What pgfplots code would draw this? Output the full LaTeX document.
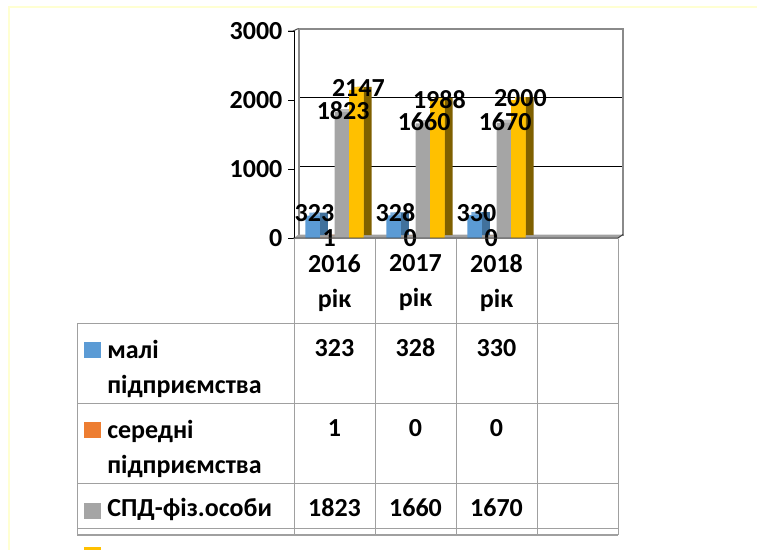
\documentclass[border=0pt]{standalone}
\usepackage{pgfplots}
\usepackage{pgfplotstable}
\pgfplotsset{compat=1.18}
\usepackage{fontspec}
\setmainfont{Carlito}
\definecolor{cBlue}{HTML}{5B9BD5}
\definecolor{cOrange}{HTML}{ED7D31}
\definecolor{cGrey}{HTML}{A5A5A5}
\definecolor{cYellow}{HTML}{FFC000}
\definecolor{sBlue}{HTML}{41719C}
\definecolor{sOrange}{HTML}{AE5A21}
\definecolor{sGrey}{HTML}{7C7C7C}
\definecolor{sYellow}{HTML}{7F6000}
\definecolor{tBlue}{HTML}{7DAFDD}
\definecolor{tOrange}{HTML}{F19759}
\definecolor{tGrey}{HTML}{BDBDBD}
\definecolor{tYellow}{HTML}{FFCD33}
\definecolor{wall}{HTML}{8A8A8A}
\definecolor{tbl}{HTML}{A0A0A0}
\definecolor{pageb}{HTML}{FFFFD2}
\newcommand{\bigf}{\fontsize{19.5}{26.25}\selectfont\bfseries}

\pgfplotstableread{
x small medium spd other
0 323 1 1823 2147
1 328 0 1660 1988
2 330 0 1670 2000
}\data

\pgfplotsset{
  /pgf/number format/1000 sep={},
  /pgf/number format/assume math mode=true,
  back/.style={ybar, bar width=10.95pt, bar shift=#1, xshift=3pt, yshift=2.25pt, draw=none},
  topf/.style={ybar, bar width=7.95pt, bar shift=#1, yshift=2.25pt, draw=none},
  front/.style={ybar, bar width=10.95pt, bar shift=#1, draw=none},
  lab/.style 2 args={only marks, mark=*, mark size=0pt, mark options={draw=none, fill=none},
    nodes near coords,
    every node near coord/.append style={font=\bigf, anchor=center, inner sep=0pt, xshift=#1, yshift=#2, text=black}},
}

\begin{document}
\begin{tikzpicture}
\begin{scope}[x=0.75pt,y=-0.75pt]
\useasboundingbox (0,0) rectangle (757,550);
% page border
\draw[pageb, line width=1.5pt] (8,7) -- (757,7);
\draw[pageb, line width=1.5pt] (9,7) -- (9,550);
% back wall grid
\draw[black, line width=0.75pt] (298.5,97.7) -- (623,97.7);
\draw[black, line width=0.75pt] (298.5,166.3) -- (623,166.3);
% walls
\draw[wall, line width=1.5pt] (298.5,236) -- (298.5,29) -- (623,29) -- (623,236);
\fill[wall!80] (294,238) -- (298.5,234.5) -- (623,234.5) -- (618,238) -- cycle;
\draw[black!70, line width=0.75pt] (288,31) -- (293,31) -- (298.5,28.5);
\end{scope}

\begin{axis}[
  at={(220.5pt,-178.5pt)}, anchor=south west,
  scale only axis, width=243pt, height=155.25pt,
  xmin=-0.5, xmax=3.5, ymin=0, ymax=3000,
  clip=false,
  axis lines*=left,
  x axis line style={draw=none},
  y axis line style={black, line width=0.75pt},
  xtick={0,1,2}, xticklabels={{2016\\рік},{2017\\рік},{2018\\рік}},
  xtick style={draw=none},
  xticklabel style={align=center, font=\bigf, inner sep=0pt, anchor=north, yshift=-7.5pt},
  ytick={0,1000,2000,3000},
  ytick style={black, line width=0.75pt},
  tick align=outside, major tick length=4.5pt,
  yticklabel style={font=\bigf, inner sep=0pt, anchor=east, xshift=-4pt},
]
% blue
\addplot[back=-13.425pt, fill=sBlue] table[x=x,y=small]{\data};
\addplot[topf=-14.925pt, fill=tBlue] table[x=x,y=small]{\data};
\addplot[front=-16.425pt, fill=cBlue] table[x=x,y=small]{\data};
% orange
\addplot[back=-2.475pt, fill=sOrange] table[x=x,y=medium]{\data};
\addplot[topf=-3.975pt, fill=tOrange] table[x=x,y=medium]{\data};
\addplot[front=-5.475pt, fill=cOrange] table[x=x,y=medium]{\data};
% grey
\addplot[back=8.475pt, fill=sGrey] table[x=x,y=spd]{\data};
\addplot[topf=6.975pt, fill=tGrey] table[x=x,y=spd]{\data};
\addplot[front=5.475pt, fill=cGrey] table[x=x,y=spd]{\data};
% yellow
\addplot[back=19.425pt, fill=sYellow] table[x=x,y=other]{\data};
\addplot[topf=17.925pt, fill=tYellow] table[x=x,y=other]{\data};
\addplot[front=16.425pt, fill=cYellow] table[x=x,y=other]{\data};
% labels
\addplot[lab={-15pt}{2pt}] table[x=x,y=small]{\data};
\addplot[lab={-4pt}{0pt}] table[x=x,y=medium]{\data};
\addplot[lab={6.5pt}{1.1pt}] table[x=x,y=spd]{\data};
\addplot[lab={17.9pt}{1.1pt}] table[x=x,y=other]{\data};
\end{axis}

\begin{scope}[x=0.75pt,y=-0.75pt]
% front floor edge
\draw[black!75, line width=0.75pt] (293,238) -- (618,238) -- (623,234.5);
% table lines
\begin{scope}[tbl, line width=0.75pt]
\foreach \yy in {323.3,403.3,483.3,528.3} \draw (77,\yy) -- (618,\yy);
\draw[line width=1.1pt] (77,535) -- (618,535);
\draw (77,323.3) -- (77,535);
\foreach \xx in {294,375,456,537,618} \draw (\xx,238.5) -- (\xx,535);
\end{scope}
% legend keys
\fill[cBlue] (84,342) rectangle (101,358);
\fill[cOrange] (84,422) rectangle (101,438);
\fill[cGrey] (84,502.5) rectangle (101,518.5);
\fill[cYellow] (84,547) rectangle (101,550);
% row labels
\begin{scope}[every node/.style={anchor=base west, inner sep=0pt, font=\bigf}]
\node at (107,358.3) {малі};
\node at (107,393.3) {підприємства};
\node at (107,438.3) {середні};
\node at (107,473.3) {підприємства};
\node at (107,516.7) {СПД-фіз.особи};
\end{scope}
% table values
\foreach \col/\yy in {small/356.7, medium/436.7, spd/516.7}{
  \foreach \r/\xx in {0/334.5,1/415.5,2/496.5}{
    \pgfplotstablegetelem{\r}{\col}\of\data
    \node[anchor=base, inner sep=0pt, font=\bigf] at (\xx,\yy) {\pgfplotsretval};
  }
}
\end{scope}
\end{tikzpicture}
\end{document}
